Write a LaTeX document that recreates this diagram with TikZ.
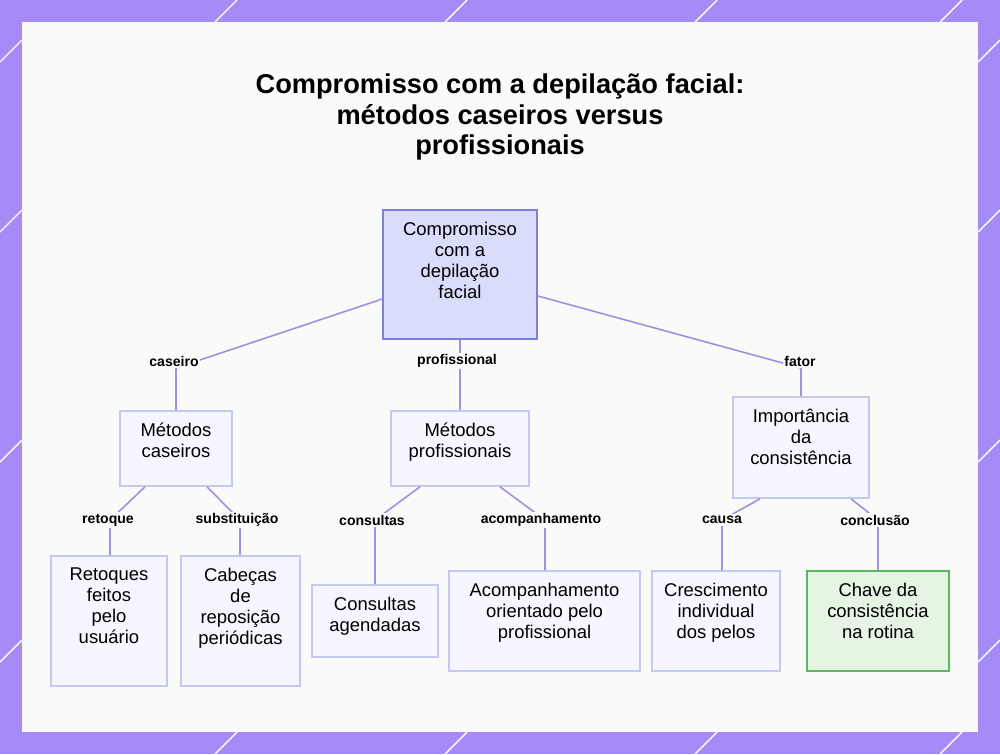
\documentclass[tikz,border=0pt]{standalone}
\usepackage{fontspec}
\setmainfont{Liberation Sans}
\usetikzlibrary{positioning}
\definecolor{frame}{HTML}{A48BF5}
\definecolor{panel}{HTML}{FAFAF8}
\definecolor{boxfill}{HTML}{F5F6FE}
\definecolor{boxline}{HTML}{C4C8F2}
\definecolor{rootfill}{HTML}{D9DCFB}
\definecolor{rootline}{HTML}{7D80D8}
\definecolor{greenfill}{HTML}{E6F4E4}
\definecolor{greenline}{HTML}{5CB85C}
\definecolor{edge}{HTML}{A08FE2}

\begin{document}
\begin{tikzpicture}[x=0.02cm, y=-0.02cm,
  box/.style = {draw=boxline, fill=boxfill, line width=0.9pt, inner sep=0},
  txt/.style = {label={[anchor=north, yshift=-7pt, align=center, inner sep=0,
    font=\fontsize{10.5}{12}\selectfont]north:#1}},
  rootbox/.style = {box, draw=rootline, fill=rootfill},
  goal/.style = {box, draw=greenline, fill=greenfill},
  lbl/.style = {fill=panel, inner sep=1pt, font=\bfseries\fontsize{8}{9}\selectfont},
  link/.style = {draw=edge, line width=0.9pt},
  size/.style 2 args = {minimum width=#1*0.02cm, minimum height=#2*0.02cm}]

\useasboundingbox (0,0) rectangle (1000,754);
\fill[frame] (0,0) rectangle (1000,754);
\foreach \a in {215,445,695,940}
  {\draw[white, line width=0.8pt] (\a,22) -- (\a+22,0);
   \draw[white, line width=0.8pt] (\a,754) -- (\a+22,732);}
\foreach \a in {40,210,440,640}
  {\draw[white, line width=0.8pt] (0,\a+22) -- (22,\a);
   \draw[white, line width=0.8pt] (978,\a+22) -- (1000,\a);}
\fill[panel] (22,22) rectangle (978,732);

\node[font=\bfseries\fontsize{15.5}{17.5}\selectfont, align=center] (title) at (500,117)
  {Compromisso com a depilação facial:\\métodos caseiros versus\\profissionais};

\node[rootbox, size={154}{129}, txt={Compromisso\\com a\\depilação\\facial}] (root) at (460,274.5) {};

\node[box, size={112}{75}, txt={Métodos\\caseiros}] (mc) at (176,448.5) {};
\node[box, size={138}{75}, txt={Métodos\\profissionais}] (mp) at (460,448.5) {};
\node[box, size={136}{101}, txt={Importância\\da\\consistência}] (imp) at (801,447.5) {};

\node[box, size={116}{130}, txt={Retoques\\feitos\\pelo\\usuário}] (ret) at (109,621) {};
\node[box, size={119}{130}, txt={Cabeças\\de\\reposição\\periódicas}] (cab) at (240.5,621) {};
\node[box, size={126}{72}, txt={Consultas\\agendadas}] (con) at (375,621) {};
\node[box, size={191}{100}, txt={Acompanhamento\\orientado pelo\\profissional}] (aco) at (544.5,621) {};
\node[box, size={128}{100}, txt={Crescimento\\individual\\dos pelos}] (cre) at (716,621) {};
\node[goal, size={142}{100}, txt={Chave da\\consistência\\na rotina}] (cha) at (878,621) {};

% bends
\coordinate (b1) at (176,368);
\coordinate (b2) at (801,368);
\coordinate (b3) at (110,520);
\coordinate (b4) at (240,520);
\coordinate (b5) at (375,520);
\coordinate (b6) at (545,520);
\coordinate (b7) at (722,520);
\coordinate (b8) at (878,520);

\draw[link] (root.west |- 0,299) -- (b1) -- (mc.north);
\draw[link] (root) -- (mp);
\draw[link] (root.east |- 0,296) -- (b2) -- (imp.north);
\draw[link] (mc.south -| 145,0) -- (b3) -- (ret.north -| b3);
\draw[link] (mc.south -| 207,0) -- (b4) -- (cab.north -| b4);
\draw[link] (mp.south -| 420,0) -- (b5) -- (con.north);
\draw[link] (mp.south -| 500,0) -- (b6) -- (aco.north -| b6);
\draw[link] (imp.south -| 760,0) -- (b7) -- (cre.north -| b7);
\draw[link] (imp.south -| 851,0) -- (b8) -- (cha.north -| b8);

\node[lbl] at (174,361) {caseiro};
\node[lbl] at (457,361) {profissional};
\node[lbl] at (800,361) {fator};
\node[lbl] at (108,520) {retoque};
\node[lbl] at (237,520) {substituição};
\node[lbl] at (372,520) {consultas};
\node[lbl] at (541,520) {acompanhamento};
\node[lbl] at (722,520) {causa};
\node[lbl] at (875,520) {conclusão};

\end{tikzpicture}
\end{document}
